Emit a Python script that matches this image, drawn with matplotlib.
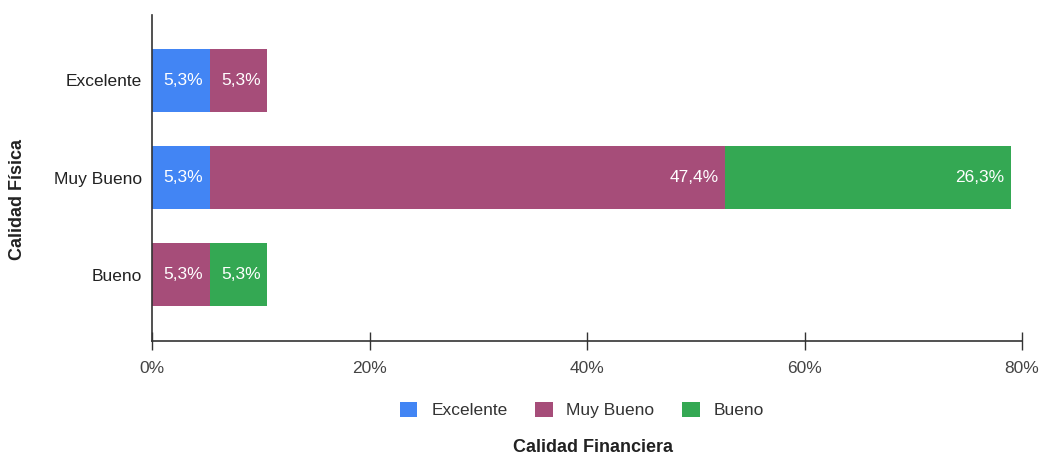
import numpy as np
import matplotlib
matplotlib.use("Agg")
import matplotlib.pyplot as plt
from matplotlib.patches import Patch

plt.rcParams['font.family'] = ['Liberation Sans', 'DejaVu Sans']

# datos
categorias = ['Bueno', 'Muy Bueno', 'Excelente']   # de abajo hacia arriba
series = ['Excelente', 'Muy Bueno', 'Bueno']
excelente = [0.0, 5.3, 5.3]
muy_bueno = [5.3, 47.4, 5.3]
bueno = [5.3, 26.3, 0.0]
colores = ['#4285F4', '#A64D79', '#34A853']
xticks = [0, 20, 40, 60, 80]

fig = plt.figure(figsize=(10.42, 4.55), dpi=100)
ax = fig.add_axes([152 / 1042, 1 - 341 / 455, 870 / 1042, 326 / 455])

y = np.arange(len(categorias))
izq = np.zeros(len(categorias))
for vals, color in zip([excelente, muy_bueno, bueno], colores):
    vals = np.array(vals)
    ax.barh(y, vals, left=izq, height=0.65, color=color, edgecolor='none')
    for yi, l, v in zip(y, izq, vals):
        if v > 0:
            ax.text(l + v - 0.6, yi, f"{v:.1f}%".replace('.', ','),
                    ha='right', va='center', color='white', fontsize=12.5)
    izq += vals

ax.set_xlim(0, 80)
ax.set_ylim(-0.68, 2.67)
ax.set_xticks(xticks)
ax.set_xticklabels([f"{t}%" for t in xticks], color='#444444', fontsize=12.5)
ax.set_yticks(y)
ax.set_yticklabels(categorias, color='#222222', fontsize=12.5)
ax.tick_params(axis='y', length=0, pad=7)
ax.tick_params(axis='x', direction='inout', length=13, width=1, color='#333333', pad=8)
for s in ['top', 'right']:
    ax.spines[s].set_visible(False)
for s in ['left', 'bottom']:
    ax.spines[s].set_color('#333333')
    ax.spines[s].set_linewidth(1.2)

fig.text(18 / 1042, 1 - 200 / 455, 'Calidad Física', rotation=90, ha='center', va='center',
         fontsize=13, fontweight='bold', color='#222222')
fig.text(593 / 1042, 1 - 447 / 455, 'Calidad Financiera', ha='center', va='center',
         fontsize=13, fontweight='bold', color='#222222')

handles = [Patch(facecolor=c, edgecolor='none', label=s) for s, c in zip(series, colores)]
fig.legend(handles=handles, loc='center', bbox_to_anchor=(582 / 1042, 1 - 410 / 455),
           ncol=3, frameon=False, fontsize=12.5, handlelength=1.0, handleheight=1.0,
           handletextpad=0.8, columnspacing=1.6, labelcolor='#333333')

fig.savefig('out.png', dpi=100)
